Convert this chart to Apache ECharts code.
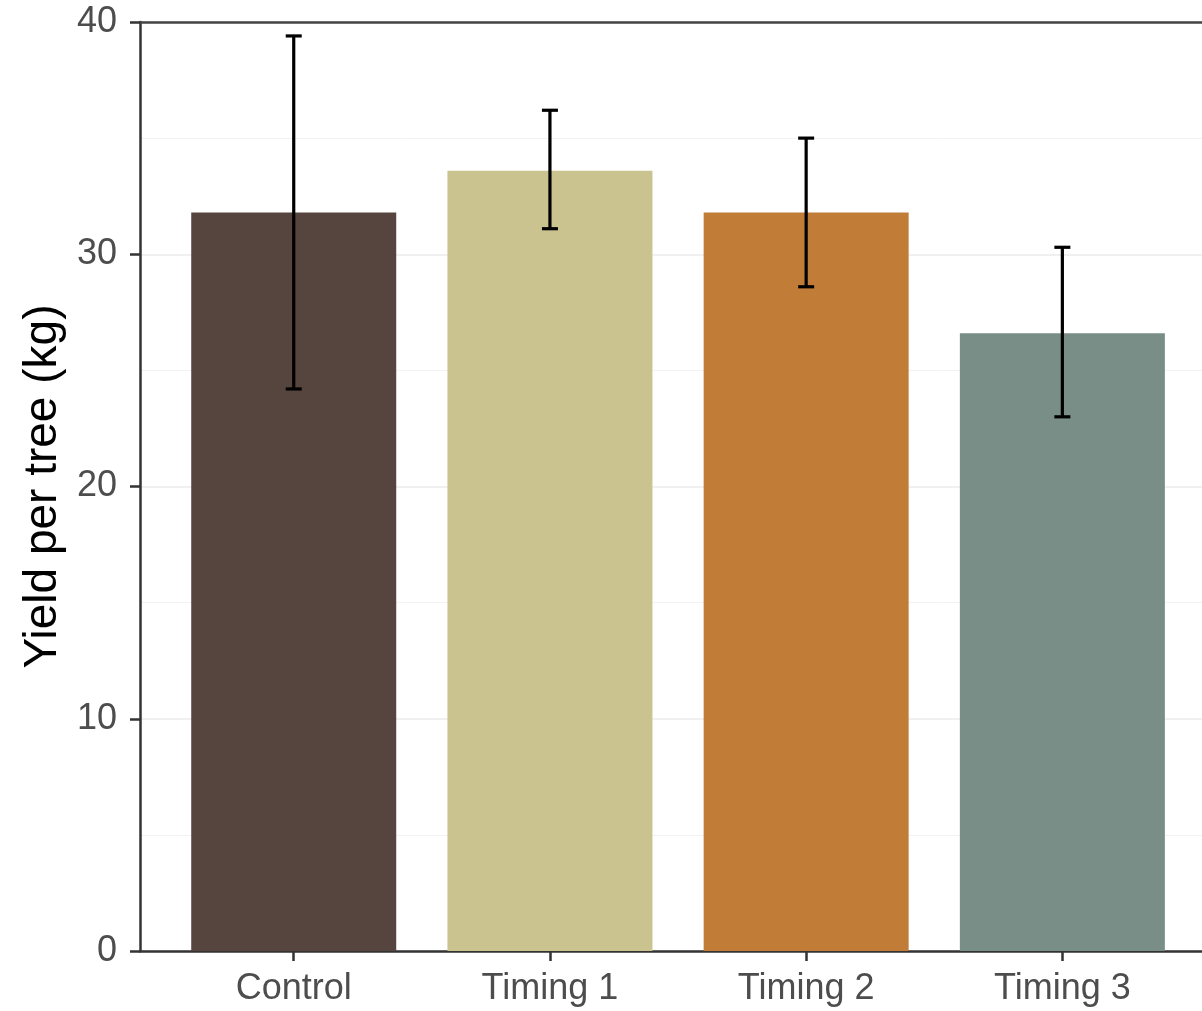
<!DOCTYPE html>
<html>
<head>
<meta charset="utf-8">
<script src="https://cdn.jsdelivr.net/npm/echarts@6/dist/echarts.min.js"></script>
<style>html,body{margin:0;padding:0;background:#fff;}#c{width:1202px;height:1011px;}</style>
</head>
<body>
<div id="c"></div>
<script>
const categories = ['Control', 'Timing 1', 'Timing 2', 'Timing 3'];
const means = [31.8, 33.6, 31.8, 26.6];
const lower = [24.2, 31.1, 28.6, 23.0];
const upper = [39.4, 36.2, 35.0, 30.3];
const colors = ['#56443F', '#CBC38F', '#C17C38', '#798E87'];
const yTicks = [0, 10, 20, 30, 40];

const chart = echarts.init(document.getElementById('c'));
const font = '"Liberation Sans", Arial, Helvetica, sans-serif';
const positions = categories.map((c, i) => i + 1);
// discrete axis expanded by 0.6 on each side; the right end is cropped by the canvas edge
const xMin = 0.4, xMax = 4.545;

chart.setOption({
  animation: false,
  backgroundColor: '#fff',
  grid: { left: 140, top: 22, bottom: 60, right: 0, show: false },
  xAxis: [{
    type: 'value', min: xMin, max: xMax,
    axisLine: { show: true, lineStyle: { color: '#333', width: 2.5 } },
    axisTick: { show: true, customValues: positions, length: 10, lineStyle: { color: '#333', width: 2.5 } },
    axisLabel: { customValues: positions, formatter: v => categories[Math.round(v) - 1], color: '#4D4D4D', fontSize: 36, fontFamily: font, margin: 20 },
    splitLine: { show: false }
  }, {
    type: 'value', min: xMin, max: xMax, position: 'top',
    axisLine: { show: true, lineStyle: { color: '#444', width: 2.5 } },
    axisTick: { show: false }, axisLabel: { show: false }, splitLine: { show: false }
  }],
  yAxis: {
    type: 'value', min: yTicks[0], max: yTicks[yTicks.length - 1], interval: 10,
    name: 'Yield per tree (kg)', nameLocation: 'middle', nameGap: 73,
    nameTextStyle: { color: '#000', fontSize: 46, fontFamily: font },
    axisLine: { show: true, lineStyle: { color: '#333', width: 2.5 } },
    axisTick: { show: true, length: 10, lineStyle: { color: '#333', width: 2.5 } },
    axisLabel: { color: '#4D4D4D', fontSize: 36, fontFamily: font, margin: 23 },
    splitLine: { show: true, lineStyle: { color: '#EBEBEB', width: 1.5 } },
    minorTick: { show: false, splitNumber: 2 },
    minorSplitLine: { show: true, lineStyle: { color: '#F2F2F2', width: 1 } }
  },
  series: [
    {
      type: 'bar', barWidth: 205,
      data: means.map((m, i) => ({ value: [positions[i], m], itemStyle: { color: colors[i] } })),
      z: 2
    },
    {
      type: 'custom', z: 5,
      data: means.map((m, i) => [positions[i], lower[i], upper[i]]),
      renderItem: function (params, api) {
        const x = api.value(0);
        const lo = api.coord([x, api.value(1)]);
        const hi = api.coord([x, api.value(2)]);
        const hw = 8;
        const st = { stroke: '#000', lineWidth: 3.2 };
        return {
          type: 'group',
          children: [
            { type: 'line', shape: { x1: lo[0], y1: lo[1], x2: hi[0], y2: hi[1] }, style: st },
            { type: 'line', shape: { x1: hi[0] - hw, y1: hi[1], x2: hi[0] + hw, y2: hi[1] }, style: st },
            { type: 'line', shape: { x1: lo[0] - hw, y1: lo[1], x2: lo[0] + hw, y2: lo[1] }, style: st }
          ]
        };
      }
    }
  ]
});
</script>
</body>
</html>
